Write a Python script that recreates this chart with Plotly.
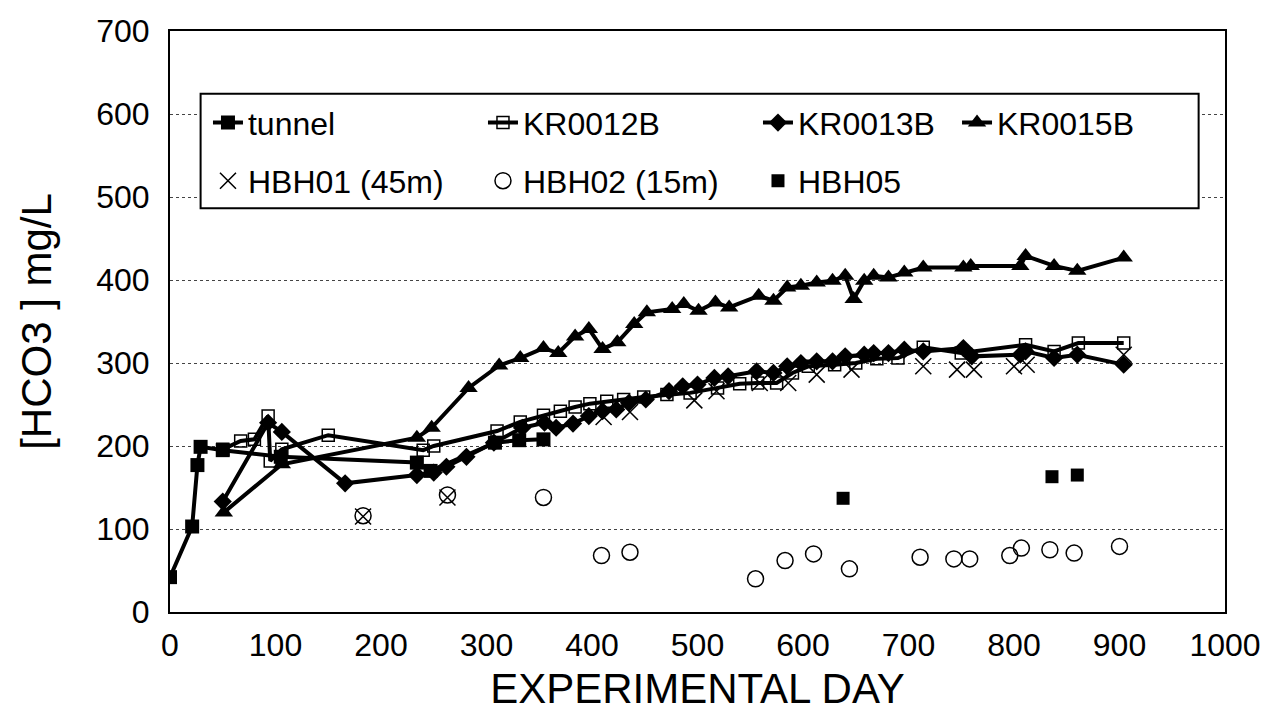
import plotly.graph_objects as go

# ---------------- data ----------------
tunnel_day = [0, 21, 26, 29, 50, 105, 234, 247, 308, 331, 354]
tunnel_val = [42, 103, 177, 199, 195, 187, 180, 170, 204, 207, 208]

kr12_day = [50, 67, 80, 93, 95, 106, 150, 240, 250, 310, 332, 354, 370, 384, 398, 414,
            430, 449, 471, 493, 519, 540, 557, 575, 590, 605, 630, 650, 670, 690, 714,
            750, 811, 838, 861, 904]
kr12_val = [196, 206, 208, 236, 182, 196, 213, 195, 200, 218, 229, 237, 242, 247, 251, 254,
            256, 259, 262, 264, 270, 275, 276, 276, 288, 296, 298, 300, 305, 306, 319,
            312, 322, 314, 324, 324]

kr13_day = [50, 93, 106, 166, 234, 250, 262, 281, 307, 334, 355, 366, 382, 397, 410, 423,
            435, 451, 473, 486, 500, 516, 529, 556, 572, 585, 598, 613, 628, 640, 658,
            667, 681, 696, 714, 752, 760, 806, 811, 838, 860, 904]
kr13_val = [133, 228, 217, 155, 165, 168, 175, 187, 204, 222, 228, 222, 227, 236, 242, 244,
            252, 256, 266, 272, 274, 282, 284, 290, 288, 296, 300, 302, 302, 308, 310,
            312, 312, 316, 314, 318, 308, 310, 314, 306, 310, 298]

kr15_day = [51, 106, 234, 248, 283, 312, 332, 354, 368, 384, 397, 410, 424, 440, 452, 476,
            487, 501, 517, 530, 558, 572, 585, 598, 613, 628, 640, 648, 658, 667, 681,
            696, 714, 752, 759, 806, 811, 838, 860, 904]
kr15_val = [120, 178, 210, 222, 270, 297, 306, 318, 312, 332, 341, 317, 325, 347, 361, 365,
            371, 363, 373, 367, 381, 375, 391, 393, 397, 399, 405, 377, 399, 405, 403,
            409, 415, 415, 417, 417, 429, 417, 411, 427]

hbh01_day = [183, 263, 411, 436, 497, 518, 559, 586, 613, 646, 714, 746, 762, 800, 812, 904]
hbh01_val = [115, 138, 235, 241, 255, 266, 276, 276, 286, 292, 296, 292, 292, 296, 298, 310]

hbh02_day = [183, 263, 354, 409, 436, 555, 583, 610, 644, 711, 743, 758, 796, 807, 834, 857, 900]
hbh02_val = [116, 141, 138, 68, 72, 40, 62, 70, 52, 66, 64, 64, 68, 77, 75, 71, 79]

hbh05_day = [638, 836, 860]
hbh05_val = [137, 163, 165]

x_ticks = [0, 100, 200, 300, 400, 500, 600, 700, 800, 900, 1000]
y_ticks = [0, 100, 200, 300, 400, 500, 600, 700]

FONT = "Liberation Sans, Arial, sans-serif"
BLACK = "#000000"

fig = go.Figure()

fig.add_trace(go.Scatter(x=tunnel_day, y=tunnel_val, name="tunnel", mode="lines+markers",
                         line=dict(color=BLACK, width=4),
                         marker=dict(symbol="square", size=14, color=BLACK),
                         legend="legend"))
fig.add_trace(go.Scatter(x=kr12_day, y=kr12_val, name="KR0012B", mode="lines+markers",
                         line=dict(color=BLACK, width=4),
                         marker=dict(symbol="square-open", size=12, color=BLACK,
                                     line=dict(width=1.5)),
                         legend="legend"))
fig.add_trace(go.Scatter(x=kr13_day, y=kr13_val, name="KR0013B", mode="lines+markers",
                         line=dict(color=BLACK, width=4),
                         marker=dict(symbol="diamond", size=14, color=BLACK),
                         legend="legend"))
fig.add_trace(go.Scatter(x=kr15_day, y=kr15_val, name="KR0015B", mode="lines+markers",
                         line=dict(color=BLACK, width=4),
                         marker=dict(symbol="triangle-up", size=16, color=BLACK),
                         legend="legend2"))
fig.add_trace(go.Scatter(x=hbh01_day, y=hbh01_val, name="HBH01 (45m)", mode="markers",
                         marker=dict(symbol="x-thin-open", size=16, color=BLACK,
                                     line=dict(width=1.5, color=BLACK)),
                         legend="legend3"))
fig.add_trace(go.Scatter(x=hbh02_day, y=hbh02_val, name="HBH02 (15m)", mode="markers",
                         marker=dict(symbol="circle-open", size=16, color=BLACK,
                                     line=dict(width=1.5)),
                         legend="legend3"))
fig.add_trace(go.Scatter(x=hbh05_day, y=hbh05_val, name="HBH05", mode="markers",
                         marker=dict(symbol="square", size=13, color=BLACK),
                         legend="legend3"))

leg_common = dict(orientation="h", xanchor="left", yanchor="middle",
                  bgcolor="rgba(0,0,0,0)", borderwidth=0,
                  font=dict(family=FONT, size=32, color=BLACK),
                  entrywidthmode="pixels")

fig.update_layout(
    width=1271, height=720,
    margin=dict(l=162, r=54, t=23, b=116, autoexpand=False),
    paper_bgcolor="white", plot_bgcolor="white",
    font=dict(family=FONT, color=BLACK),
    showlegend=True,
    legend=dict(**leg_common, x=0.036, y=0.842, entrywidth=230),
    legend2=dict(**leg_common, x=0.746, y=0.842, entrywidth=150),
    legend3=dict(**leg_common, x=0.036, y=0.742, entrywidth=230),
    xaxis=dict(range=[0, 1000], tickvals=x_ticks, ticktext=[str(v) for v in x_ticks],
               showgrid=False, zeroline=False, showline=True, linecolor=BLACK,
               linewidth=2, mirror=True, ticks="", automargin=False,
               ticklabelstandoff=4,
               tickfont=dict(family=FONT, size=32, color=BLACK),
               title=dict(text="EXPERIMENTAL DAY", standoff=11,
                          font=dict(family=FONT, size=42, color=BLACK))),
    yaxis=dict(range=[0, 700], tickvals=y_ticks, ticktext=[str(v) for v in y_ticks],
               showgrid=True, gridcolor="#444444", griddash="dot", gridwidth=1,
               zeroline=False, showline=True, linecolor=BLACK, linewidth=2,
               mirror=True, ticks="", automargin=False,
               ticklabelstandoff=12,
               tickfont=dict(family=FONT, size=32, color=BLACK),
               title=dict(text="[HCO3 ] mg/L", standoff=32,
                          font=dict(family=FONT, size=42, color=BLACK))),
    shapes=[dict(type="rect", xref="paper", yref="paper",
                 x0=0.029, x1=0.975, y0=0.695, y1=0.892,
                 line=dict(color=BLACK, width=2), fillcolor="white", layer="above")],
)

fig.write_html("out.html")
